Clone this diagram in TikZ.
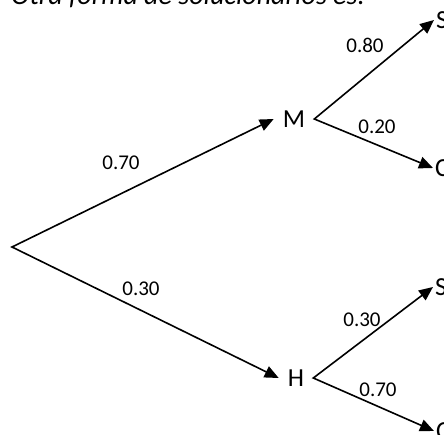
\documentclass[tikz,border=0pt]{standalone}
\usepackage{fontspec}
\setmainfont{Carlito}
\usetikzlibrary{arrows.meta}
\tikzset{
  fork/.style={line width=1.6pt, line join=miter,
    {Triangle[length=14pt,width=12pt]}-{Triangle[length=14pt,width=12pt]}},
  prob/.style={font=\fontsize{21}{24}\selectfont, inner sep=0pt},
  event/.style={font=\fontsize{26}{30}\selectfont, inner xsep=9pt, inner ysep=2pt},
  outcome/.style={font=\fontsize{26}{30}\selectfont, anchor=west, inner xsep=2pt},
}

\begin{document}
\begin{tikzpicture}[x=1pt,y=-1pt]
  \useasboundingbox (0,0) rectangle (444,435);
  \clip (0,0) rectangle (444,435);
  \node[anchor=base west, inner sep=0pt, font=\fontsize{28}{32}\selectfont\itshape] (title) at (11,5) {Otra forma de solucionarlos es:};

  % tree
  \coordinate (root) at (12,247);
  \node[event] (M) at (294,119) {M};
  \node[event] (H) at (296,378) {H};
  \node[outcome] (S1) at (434,20) {S};
  \node[outcome] (C1) at (433,168) {C};
  \node[outcome] (S2) at (433,287) {S};
  \node[outcome] (C2) at (434,431) {C};

  \draw[fork] (M.west) -- (root) -- (H.west);
  \draw[fork] (S1.west) -- (M.east) -- (C1.west);
  \draw[fork] (S2.west) -- (H.east) -- (C2.west);

  % probabilities
  \node[prob] (pM) at (121,163) {0.70};
  \node[prob] (pH) at (141,289) {0.30};
  \node[prob] (pMS) at (365,45) {0.80};
  \node[prob] (pMC) at (377,127) {0.20};
  \node[prob] (pHS) at (362,320) {0.30};
  \node[prob] (pHC) at (378,390) {0.70};
\end{tikzpicture}
\end{document}
